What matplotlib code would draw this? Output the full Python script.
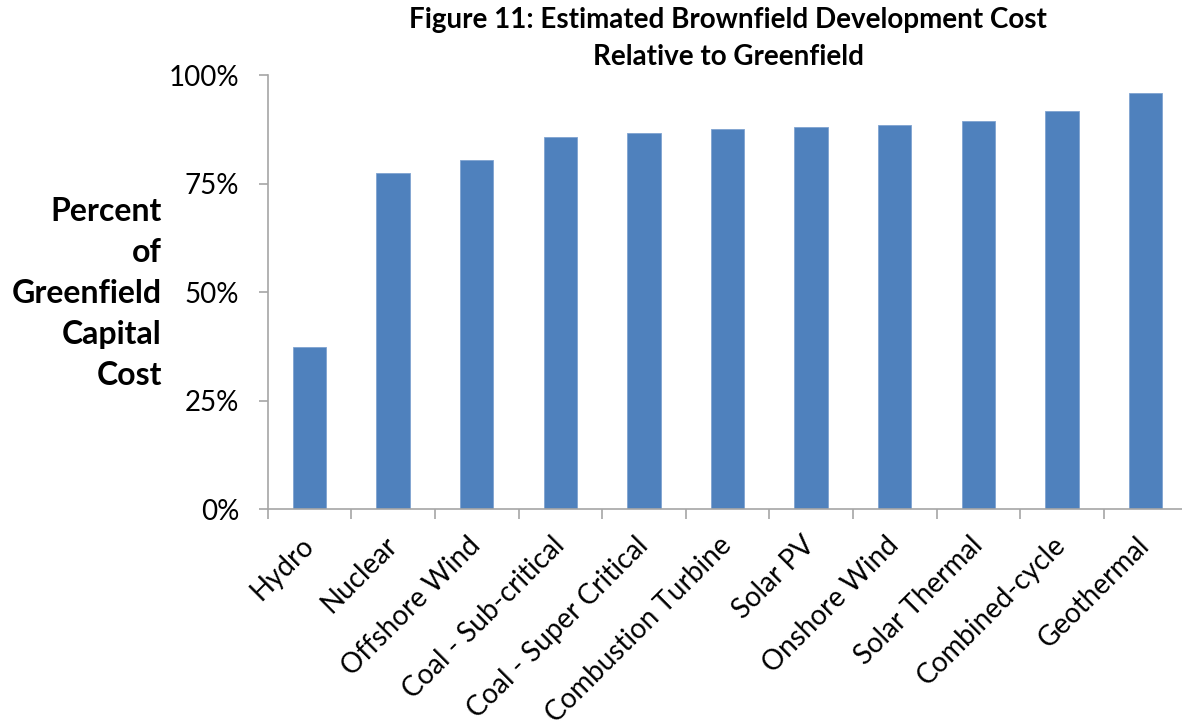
"""
Estimated brownfield development cost as a share of greenfield capital cost.
"""

import matplotlib.pyplot as plt
import numpy as np
from matplotlib.ticker import FuncFormatter

technologies = [
    "Hydro",
    "Nuclear",
    "Offshore Wind",
    "Coal - Sub-critical",
    "Coal - Super Critical",
    "Combustion Turbine",
    "Solar PV",
    "Onshore Wind",
    "Solar Thermal",
    "Combined-cycle",
    "Geothermal",
]
percent_of_greenfield = [37.4, 77.4, 80.6, 85.7, 86.6, 87.6, 88.1, 88.5, 89.4, 91.7, 96.0]
y_ticks = [0, 25, 50, 75, 100]

bar_color = "#4F81BD"
axis_color = "#A6A6A6"

plt.rcParams["font.family"] = ["Lato", "DejaVu Sans"]

fig = plt.figure(figsize=(11.82, 7.27), dpi=100)
ax = fig.add_axes([0.2265, 0.2994, 0.7780, 0.5970])

x = np.arange(len(technologies))
ax.bar(x, percent_of_greenfield, width=0.4, color=bar_color,
       edgecolor="#7FA3D0", linewidth=0.6, zorder=2)

ax.set_xlim(-0.5, len(technologies) - 0.5)
ax.set_ylim(0, 100)

# Y axis: percent ticks pointing outwards.
ax.set_yticks(y_ticks)
ax.yaxis.set_major_formatter(FuncFormatter(lambda v, _: f"{v:.0f}%"))
ax.tick_params(axis="y", length=6.5, width=1.2, color=axis_color,
               labelsize=20, pad=14)

# X axis: tick marks between categories, labels under bar centres.
ax.set_xticks(np.arange(len(technologies) + 1) - 0.5)
ax.set_xticklabels([])
ax.tick_params(axis="x", which="major", length=7.5, width=1.2, color=axis_color)
ax.set_xticks(x, minor=True)
ax.set_xticklabels(technologies, minor=True, rotation=45, ha="right",
                   va="center", rotation_mode="anchor", fontsize=20)
ax.tick_params(axis="x", which="minor", length=0, pad=23)

for side in ("top", "right"):
    ax.spines[side].set_visible(False)
for side in ("left", "bottom"):
    ax.spines[side].set_color(axis_color)
    ax.spines[side].set_linewidth(1.2)

fig.text(0.137, 0.596,
         "Percent\nof\nGreenfield\nCapital\nCost",
         ha="right", va="center", fontsize=23, fontweight="bold",
         linespacing=1.5)

fig.text(0.616, 0.99,
         "Figure 11: Estimated Brownfield Development Cost\nRelative to Greenfield",
         ha="center", va="top", fontsize=20, fontweight="bold",
         linespacing=1.5)

fig.savefig("out.png", dpi=100)
